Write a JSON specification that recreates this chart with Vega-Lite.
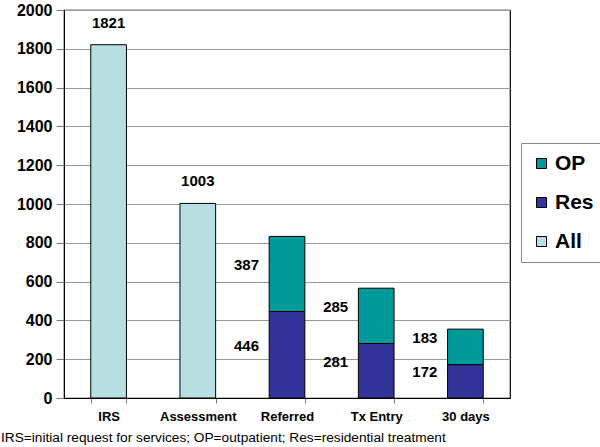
{
  "$schema": "https://vega.github.io/schema/vega-lite/v6.json",
  "width": 446,
  "height": 388,
  "padding": {"left": 1, "top": 2, "right": 0, "bottom": 0},
  "autosize": {"type": "pad"},
  "background": "white",
  "config": {
    "font": "Liberation Sans",
    "view": {"stroke": "black", "strokeWidth": 1.2},
    "axisY": {
      "labelFont": "Liberation Sans",
      "labelFontWeight": "bold",
      "labelFontSize": 16,
      "labelColor": "black",
      "labelPadding": 4,
      "tickSize": 8,
      "tickColor": "#777777",
      "domainColor": "black",
      "gridColor": "#999999",
      "gridWidth": 1,
      "minExtent": 63,
      "labelOverlap": false
    }
  },
  "title": {
    "text": "IRS=initial request for services; OP=outpatient; Res=residential treatment",
    "orient": "bottom",
    "anchor": "start",
    "frame": "bounds",
    "offset": 8,
    "fontSize": 13.7,
    "fontWeight": "normal",
    "color": "black",
    "font": "Liberation Sans"
  },
  "data": {
    "values": [
      {"stage": "IRS", "type": "All", "value": 1821},
      {"stage": "Assessment", "type": "All", "value": 1003},
      {"stage": "Referred", "type": "Res", "value": 446},
      {"stage": "Referred", "type": "OP", "value": 387},
      {"stage": "Tx Entry", "type": "Res", "value": 281},
      {"stage": "Tx Entry", "type": "OP", "value": 285},
      {"stage": "30 days", "type": "Res", "value": 172},
      {"stage": "30 days", "type": "OP", "value": 183}
    ]
  },
  "transform": [
    {"calculate": "datum.type === 'OP' ? 1 : 0", "as": "rank"},
    {"window": [{"op": "sum", "field": "value", "as": "cum"}], "groupby": ["stage"], "sort": [{"field": "rank"}]},
    {"calculate": "datum.cum - datum.value / 2", "as": "mid"}
  ],
  "encoding": {
    "x": {
      "field": "stage",
      "type": "nominal",
      "sort": ["IRS", "Assessment", "Referred", "Tx Entry", "30 days"],
      "scale": {"paddingInner": 0.6, "paddingOuter": 0.3},
      "axis": {
        "title": null,
        "labelAngle": 0,
        "labelFont": "Liberation Sans",
        "labelFontWeight": "bold",
        "labelFontSize": 13,
        "labelColor": "black",
        "labelPadding": 7,
        "domainColor": "black",
        "tickColor": "#777777",
        "tickSize": 5,
        "tickBand": "extent"
      }
    }
  },
  "layer": [
    {
      "mark": {"type": "bar", "stroke": "black", "strokeWidth": 1},
      "encoding": {
        "y": {
          "field": "value",
          "type": "quantitative",
          "stack": "zero",
          "scale": {"domain": [0, 2000], "nice": false},
          "axis": {"title": null, "format": "d", "values": [0, 200, 400, 600, 800, 1000, 1200, 1400, 1600, 1800, 2000]}
        },
        "color": {
          "field": "type",
          "type": "nominal",
          "scale": {"domain": ["OP", "Res", "All"], "range": ["#009999", "#333399", "#B7DEE0"]},
          "legend": {
            "title": null,
            "orient": "none",
            "legendX": 457,
            "legendY": 133,
            "symbolType": "square",
            "symbolSize": 100,
            "symbolStrokeColor": "black",
            "symbolStrokeWidth": 1,
            "labelFont": "Liberation Sans",
            "labelFontWeight": "bold",
            "labelFontSize": 21,
            "labelColor": "black",
            "labelOffset": 3,
            "rowPadding": 17,
            "strokeColor": "#888888",
            "padding": 10,
            "fillColor": "white"
          }
        },
        "order": {"field": "rank", "type": "quantitative"}
      }
    },
    {
      "transform": [{"filter": "datum.type === 'All'"}],
      "mark": {"type": "text", "font": "Liberation Sans", "fontWeight": "bold", "fontSize": 15, "baseline": "bottom", "dy": -14, "color": "black"},
      "encoding": {
        "y": {"field": "value", "type": "quantitative", "axis": {"title": null, "format": "d", "values": [0, 200, 400, 600, 800, 1000, 1200, 1400, 1600, 1800, 2000]}},
        "text": {"field": "value", "type": "quantitative", "format": "d"}
      }
    },
    {
      "transform": [{"filter": "datum.type !== 'All'"}],
      "mark": {"type": "text", "font": "Liberation Sans", "fontWeight": "bold", "fontSize": 15, "align": "right", "baseline": "middle", "dx": -28, "dy": -9, "color": "black"},
      "encoding": {
        "y": {"field": "mid", "type": "quantitative", "axis": {"title": null, "format": "d", "values": [0, 200, 400, 600, 800, 1000, 1200, 1400, 1600, 1800, 2000]}},
        "text": {"field": "value", "type": "quantitative", "format": "d"}
      }
    }
  ]
}
